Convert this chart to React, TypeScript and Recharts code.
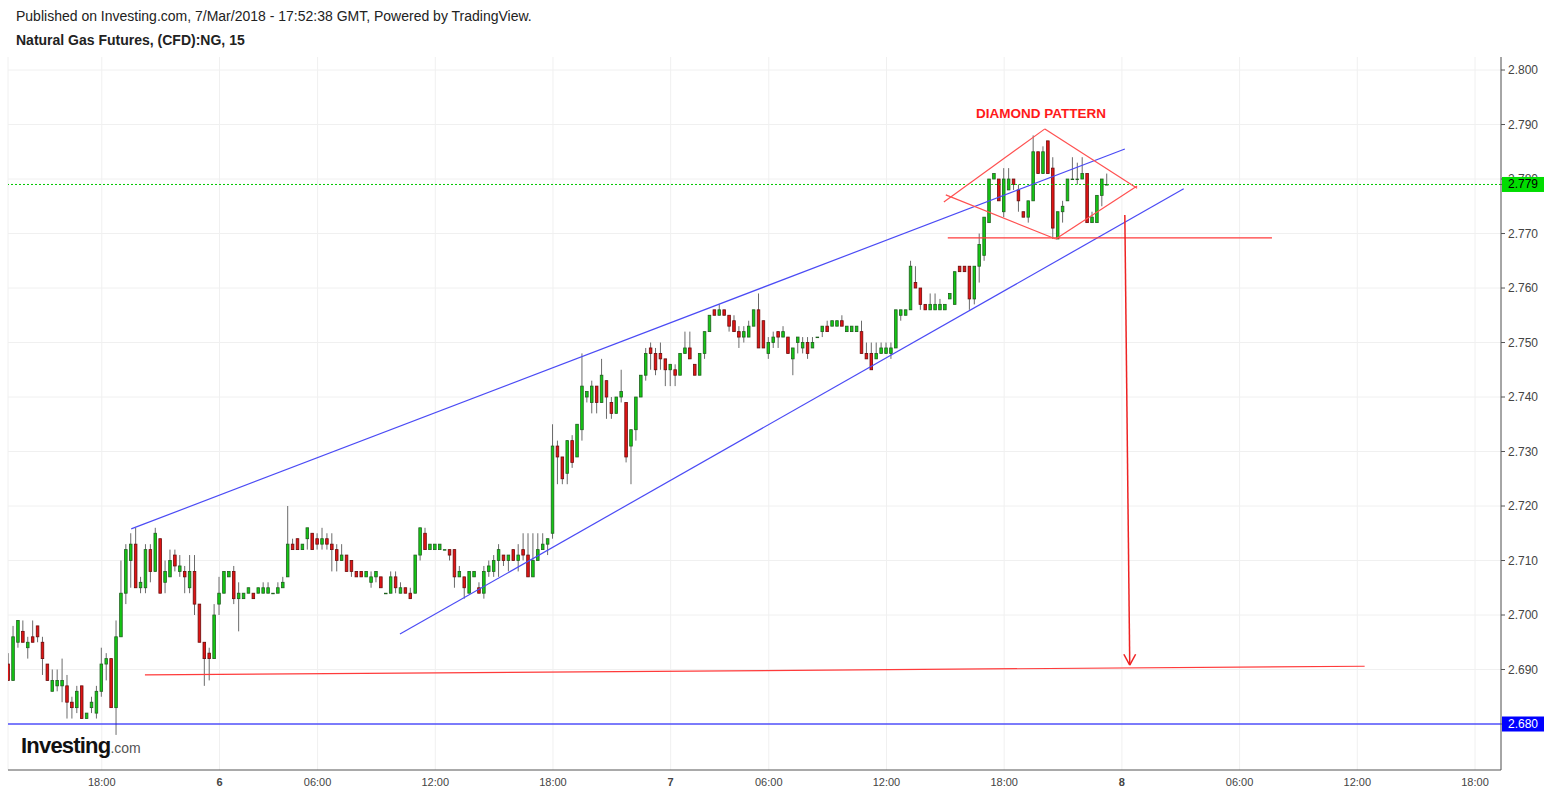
import React from "react";
import { Bar, CartesianGrid, ComposedChart, ReferenceDot, ReferenceLine, XAxis, YAxis } from "recharts";

// 15-minute bars, numbered from the "6" (midnight) tick; session breaks are skipped like TradingView does
const FIRST_BAR = -43;

const OPEN = [
  2.691, 2.688, 2.695, 2.697, 2.694, 2.696, 2.698, 2.695, 2.691, 2.686,
  2.687, 2.687, 2.687, 2.684, 2.683, 2.687, 2.681, 2.683, 2.682, 2.686,
  2.691, 2.692, 2.683, 2.696, 2.704, 2.710, 2.713, 2.705, 2.705, 2.712,
  2.708, 2.714, 2.706, 2.707, 2.711, 2.708, 2.708, 2.705, 2.708, 2.702,
  2.695, 2.693, 2.692, 2.702, 2.704, 2.707, 2.708, 2.703, 2.703, 2.704,
  2.704, 2.704, 2.704, 2.704, 2.704, 2.704, 2.705, 2.707, 2.713, 2.714,
  2.712, 2.714, 2.715, 2.714, 2.713, 2.714, 2.713, 2.712, 2.710, 2.711,
  2.710, 2.708, 2.708, 2.707, 2.706, 2.707, 2.707, 2.704, 2.704, 2.707,
  2.704, 2.705, 2.704, 2.704, 2.711, 2.715, 2.712, 2.712, 2.712, 2.712,
  2.712, 2.712, 2.707, 2.707, 2.704, 2.707, 2.705, 2.704, 2.708, 2.708,
  2.710, 2.711, 2.710, 2.712, 2.710, 2.712, 2.711, 2.707, 2.710, 2.712,
  2.713, 2.715, 2.731, 2.729, 2.726, 2.732, 2.729, 2.734, 2.740, 2.739,
  2.742, 2.739, 2.743, 2.739, 2.737, 2.740, 2.739, 2.731, 2.734, 2.740,
  2.744, 2.749, 2.748, 2.748, 2.747, 2.745, 2.745, 2.744, 2.748, 2.749,
  2.746, 2.744, 2.748, 2.752, 2.756, 2.755, 2.756, 2.755, 2.754, 2.752,
  2.751, 2.751, 2.753, 2.756, 2.754, 2.748, 2.750, 2.752, 2.751, 2.751,
  2.747, 2.750, 2.749, 2.750, 2.749, 2.751, 2.752, 2.753, 2.753, 2.753,
  2.754, 2.752, 2.752, 2.752, 2.752, 2.748, 2.748, 2.747, 2.748, 2.748,
  2.748, 2.749, 2.755, 2.755, 2.756, 2.761, 2.760, 2.757, 2.756, 2.756,
  2.756, 2.756, 2.758, 2.757, 2.764, 2.764, 2.764, 2.758, 2.764, 2.766,
  2.772, 2.780, 2.780, 2.774, 2.778, 2.780, 2.778, 2.774, 2.773, 2.776,
  2.785, 2.781, 2.787, 2.782, 2.769, 2.774, 2.776, 2.780, 2.780, 2.780,
  2.781, 2.772, 2.772, 2.777, 2.779,
];

const HIGH = [
  2.693, 2.698, 2.699, 2.699, 2.696, 2.699, 2.698, 2.696, 2.691, 2.690,
  2.690, 2.692, 2.689, 2.685, 2.687, 2.687, 2.682, 2.685, 2.687, 2.694,
  2.693, 2.692, 2.699, 2.710, 2.713, 2.715, 2.716, 2.707, 2.713, 2.713,
  2.716, 2.714, 2.710, 2.712, 2.712, 2.711, 2.709, 2.711, 2.711, 2.702,
  2.695, 2.694, 2.702, 2.707, 2.708, 2.708, 2.709, 2.706, 2.704, 2.705,
  2.704, 2.705, 2.706, 2.706, 2.704, 2.706, 2.707, 2.720, 2.714, 2.714,
  2.713, 2.716, 2.715, 2.715, 2.716, 2.715, 2.715, 2.713, 2.713, 2.711,
  2.710, 2.708, 2.708, 2.708, 2.708, 2.708, 2.707, 2.704, 2.708, 2.708,
  2.706, 2.705, 2.705, 2.711, 2.716, 2.716, 2.713, 2.713, 2.713, 2.712,
  2.712, 2.712, 2.709, 2.707, 2.708, 2.708, 2.706, 2.709, 2.710, 2.711,
  2.713, 2.711, 2.711, 2.712, 2.713, 2.715, 2.715, 2.715, 2.715, 2.715,
  2.714, 2.735, 2.732, 2.729, 2.732, 2.733, 2.735, 2.748, 2.741, 2.743,
  2.742, 2.747, 2.743, 2.740, 2.740, 2.745, 2.739, 2.734, 2.740, 2.744,
  2.749, 2.750, 2.749, 2.750, 2.747, 2.746, 2.746, 2.748, 2.752, 2.752,
  2.746, 2.748, 2.752, 2.755, 2.756, 2.757, 2.756, 2.755, 2.755, 2.753,
  2.753, 2.754, 2.756, 2.759, 2.754, 2.751, 2.752, 2.752, 2.753, 2.751,
  2.749, 2.751, 2.751, 2.751, 2.751, 2.751, 2.753, 2.754, 2.754, 2.754,
  2.755, 2.753, 2.753, 2.753, 2.754, 2.750, 2.750, 2.750, 2.750, 2.750,
  2.750, 2.756, 2.756, 2.756, 2.765, 2.764, 2.760, 2.757, 2.759, 2.759,
  2.758, 2.757, 2.759, 2.763, 2.764, 2.764, 2.764, 2.764, 2.770, 2.773,
  2.780, 2.781, 2.780, 2.782, 2.782, 2.780, 2.779, 2.774, 2.776, 2.788,
  2.785, 2.786, 2.787, 2.784, 2.774, 2.776, 2.780, 2.784, 2.783, 2.784,
  2.781, 2.774, 2.777, 2.780, 2.781,
];

const LOW = [
  2.688, 2.688, 2.694, 2.695, 2.692, 2.695, 2.695, 2.689, 2.688, 2.686,
  2.686, 2.684, 2.681, 2.681, 2.682, 2.681, 2.681, 2.682, 2.681, 2.685,
  2.688, 2.683, 2.678, 2.696, 2.702, 2.705, 2.705, 2.704, 2.704, 2.706,
  2.708, 2.704, 2.704, 2.707, 2.708, 2.707, 2.704, 2.704, 2.700, 2.695,
  2.687, 2.688, 2.692, 2.700, 2.704, 2.707, 2.702, 2.697, 2.703, 2.704,
  2.703, 2.704, 2.704, 2.704, 2.704, 2.704, 2.705, 2.707, 2.712, 2.712,
  2.712, 2.712, 2.712, 2.712, 2.712, 2.712, 2.708, 2.708, 2.710, 2.708,
  2.707, 2.707, 2.707, 2.707, 2.705, 2.706, 2.705, 2.704, 2.704, 2.704,
  2.704, 2.704, 2.703, 2.704, 2.710, 2.712, 2.712, 2.712, 2.712, 2.712,
  2.710, 2.705, 2.707, 2.703, 2.704, 2.707, 2.704, 2.703, 2.707, 2.707,
  2.707, 2.709, 2.708, 2.710, 2.708, 2.710, 2.707, 2.707, 2.710, 2.712,
  2.711, 2.714, 2.724, 2.724, 2.724, 2.727, 2.729, 2.732, 2.739, 2.737,
  2.737, 2.739, 2.736, 2.736, 2.737, 2.739, 2.728, 2.724, 2.732, 2.740,
  2.743, 2.745, 2.744, 2.745, 2.742, 2.742, 2.742, 2.744, 2.748, 2.747,
  2.744, 2.744, 2.747, 2.752, 2.755, 2.755, 2.755, 2.752, 2.752, 2.749,
  2.750, 2.751, 2.753, 2.749, 2.749, 2.747, 2.749, 2.749, 2.751, 2.748,
  2.744, 2.748, 2.748, 2.747, 2.749, 2.751, 2.751, 2.752, 2.753, 2.753,
  2.753, 2.752, 2.752, 2.752, 2.748, 2.747, 2.745, 2.747, 2.748, 2.748,
  2.747, 2.749, 2.754, 2.755, 2.756, 2.760, 2.756, 2.756, 2.756, 2.756,
  2.756, 2.756, 2.758, 2.757, 2.763, 2.763, 2.756, 2.757, 2.761, 2.765,
  2.772, 2.780, 2.776, 2.773, 2.778, 2.778, 2.774, 2.773, 2.772, 2.776,
  2.781, 2.781, 2.781, 2.769, 2.769, 2.772, 2.776, 2.780, 2.779, 2.780,
  2.772, 2.772, 2.772, 2.775, 2.779,
];

const CLOSE = [
  2.688, 2.696, 2.699, 2.695, 2.695, 2.695, 2.696, 2.692, 2.688, 2.688,
  2.688, 2.688, 2.684, 2.683, 2.686, 2.681, 2.682, 2.684, 2.686, 2.691,
  2.692, 2.683, 2.696, 2.704, 2.712, 2.713, 2.705, 2.706, 2.712, 2.708,
  2.715, 2.704, 2.708, 2.710, 2.709, 2.709, 2.707, 2.708, 2.702, 2.695,
  2.692, 2.692, 2.700, 2.704, 2.708, 2.708, 2.703, 2.704, 2.704, 2.705,
  2.703, 2.705, 2.705, 2.705, 2.704, 2.705, 2.706, 2.713, 2.712, 2.712,
  2.713, 2.716, 2.712, 2.713, 2.714, 2.713, 2.712, 2.710, 2.711, 2.708,
  2.708, 2.707, 2.707, 2.708, 2.707, 2.708, 2.705, 2.704, 2.707, 2.705,
  2.705, 2.704, 2.703, 2.711, 2.716, 2.712, 2.713, 2.713, 2.713, 2.712,
  2.711, 2.707, 2.708, 2.705, 2.708, 2.708, 2.704, 2.708, 2.709, 2.710,
  2.712, 2.710, 2.711, 2.710, 2.711, 2.711, 2.707, 2.710, 2.712, 2.713,
  2.714, 2.731, 2.729, 2.725, 2.732, 2.728, 2.735, 2.742, 2.741, 2.742,
  2.739, 2.744, 2.740, 2.737, 2.740, 2.741, 2.729, 2.734, 2.740, 2.744,
  2.748, 2.748, 2.745, 2.747, 2.745, 2.746, 2.744, 2.748, 2.749, 2.747,
  2.744, 2.748, 2.752, 2.755, 2.755, 2.756, 2.755, 2.753, 2.752, 2.751,
  2.752, 2.753, 2.756, 2.749, 2.749, 2.750, 2.751, 2.751, 2.752, 2.748,
  2.749, 2.751, 2.750, 2.748, 2.750, 2.751, 2.753, 2.752, 2.754, 2.754,
  2.753, 2.753, 2.753, 2.753, 2.748, 2.747, 2.745, 2.748, 2.749, 2.749,
  2.749, 2.756, 2.756, 2.756, 2.764, 2.760, 2.757, 2.756, 2.757, 2.757,
  2.757, 2.757, 2.759, 2.763, 2.763, 2.763, 2.758, 2.764, 2.768, 2.773,
  2.780, 2.781, 2.776, 2.780, 2.780, 2.779, 2.776, 2.773, 2.776, 2.785,
  2.781, 2.785, 2.781, 2.771, 2.774, 2.775, 2.780, 2.780, 2.780, 2.781,
  2.772, 2.773, 2.777, 2.780, 2.779,
];

const TIME_TICKS = [-24, 0, 20, 44, 68, 92, 112, 136, 160, 184, 208, 232, 256];
const TIME_LABELS = ["18:00", "6", "06:00", "12:00", "18:00", "7", "06:00", "12:00", "18:00", "8", "06:00", "12:00", "18:00"];
const PRICE_TICKS = [2.68, 2.69, 2.7, 2.71, 2.72, 2.73, 2.74, 2.75, 2.76, 2.77, 2.78, 2.79, 2.8];

const LAST_PRICE = 2.779;
const SUPPORT_PRICE = 2.68;

// drawings, as [bar, price] end points
const UPPER_CHANNEL = [[-18.0, 2.7158], [184.6, 2.7855]];
const LOWER_CHANNEL = [[36.8, 2.6965], [196.6, 2.7782]];
const TARGET_LINE = [[-15.2, 2.689], [233.5, 2.6906]];
const NECKLINE = [[148.5, 2.7692], [214.6, 2.7692]];
const DIAMOND = [
  [[147.7, 2.7758], [168.3, 2.7892]],
  [[148.1, 2.7771], [170.5, 2.769]],
  [[168.3, 2.7892], [187.1, 2.7783]],
  [[170.5, 2.769], [187.1, 2.7787]],
];
const ARROW = [[184.6, 2.7734], [185.6, 2.6909]];
const ARROW_HEAD = [
  [[184.4, 2.6928], [185.6, 2.6908]],
  [[186.8, 2.6928], [185.6, 2.6908]],
];
const PATTERN_LABEL = { bar: 167.5, price: 2.7921, text: "DIAMOND PATTERN" };

const candles = OPEN.map((open, i) => ({
  bar: FIRST_BAR + i,
  open,
  high: HIGH[i],
  low: LOW[i],
  close: CLOSE[i],
  range: [LOW[i], HIGH[i]],
}));

function Candle(props: any) {
  const { x, y, width, height, payload } = props;
  if (x == null || y == null) return null;
  const { open, close, high, low } = payload;
  const cx = x + width / 2;
  const k = high > low ? height / (high - low) : 0;
  const yOf = (v: number) => y + (high - v) * k;
  const up = close >= open;
  const top = yOf(Math.max(open, close));
  const bottom = yOf(Math.min(open, close));
  return (
    <g>
      <line x1={cx} x2={cx} y1={y} y2={y + height} stroke="#6b6b6b" strokeWidth={1} />
      <rect
        x={cx - 1.3}
        y={top}
        width={2.6}
        height={Math.max(bottom - top, 0.6)}
        fill={up ? "#14c814" : "#e01414"}
        stroke={up ? "#1f5f1f" : "#6a0c0c"}
        strokeWidth={0.8}
      />
    </g>
  );
}

function TimeTick({ x, y, payload }: any) {
  const label = TIME_LABELS[TIME_TICKS.indexOf(payload.value)] ?? "";
  const isDay = label.length === 1;
  return (
    <text x={x} y={y} dy={8} textAnchor="middle" fontSize={11} fontWeight={isDay ? "bold" : "normal"} fill="#444">
      {label}
    </text>
  );
}

// price scale labels; the last price and the support level get a coloured tag
function PriceTick({ x, y, payload }: any) {
  const v = payload.value;
  const tag = v === LAST_PRICE ? { bg: "#00dd00", fg: "#000" } : v === SUPPORT_PRICE ? { bg: "#0000ff", fg: "#fff" } : null;
  return (
    <g>
      {tag && <rect x={x - 6} y={y - 7.5} width={42} height={15} fill={tag.bg} />}
      <text x={x} y={y + 4} fontSize={12} fill={tag ? tag.fg : "#444"}>
        {v.toFixed(3)}
      </text>
    </g>
  );
}

function seg(points: number[][]) {
  return [{ x: points[0][0], y: points[0][1] }, { x: points[1][0], y: points[1][1] }];
}

export default function App() {
  return (
    <div style={{ position: "absolute", left: 0, top: 0, width: 1550, height: 794, background: "#fff", fontFamily: "Arial, 'Liberation Sans', sans-serif" }}>
      <div style={{ position: "absolute", left: 16, top: 8, fontSize: 14, color: "#222", whiteSpace: "nowrap" }}>
        Published on Investing.com, 7/Mar/2018 - 17:52:38 GMT, Powered by TradingView.
      </div>
      <div style={{ position: "absolute", left: 16, top: 32, fontSize: 14, fontWeight: "bold", color: "#222", whiteSpace: "nowrap" }}>
        Natural Gas Futures, (CFD):NG, 15
      </div>
      <ComposedChart width={1550} height={794} data={candles} margin={{ top: 57, right: 0, bottom: 0, left: 8 }}>
        <CartesianGrid stroke="#f0f0f0" horizontalValues={PRICE_TICKS} />
        <XAxis
          dataKey="bar"
          type="number"
          domain={[-43.12, 261.3]}
          allowDataOverflow
          ticks={TIME_TICKS}
          tick={<TimeTick />}
          tickLine={false}
          axisLine={{ stroke: "#555" }}
          height={24}
          interval={0}
        />
        <YAxis
          orientation="right"
          type="number"
          domain={[2.67156, 2.80239]}
          allowDataOverflow
          ticks={[...PRICE_TICKS, LAST_PRICE]}
          interval={0}
          width={49}
          tick={<PriceTick />}
          tickLine={{ stroke: "#555" }}
          tickSize={4}
          tickMargin={3}
          axisLine={{ stroke: "#555" }}
        />
        <Bar dataKey="range" barSize={4} shape={(p: any) => <Candle {...p} />} isAnimationActive={false} />
        <ReferenceLine y={SUPPORT_PRICE} stroke="#0000ff" strokeWidth={1} />
        <ReferenceLine y={LAST_PRICE} stroke="#00c800" strokeDasharray="2 2" />
        <ReferenceLine segment={seg(UPPER_CHANNEL)} stroke="#4b4bf5" strokeWidth={1.2} />
        <ReferenceLine segment={seg(LOWER_CHANNEL)} stroke="#4b4bf5" strokeWidth={1.2} />
        <ReferenceLine segment={seg(TARGET_LINE)} stroke="#ff3b3b" strokeWidth={1.2} />
        <ReferenceLine segment={seg(NECKLINE)} stroke="#ff3b3b" strokeWidth={1.2} />
        {DIAMOND.map((d, i) => (
          <ReferenceLine key={`d${i}`} segment={seg(d)} stroke="#ff5050" strokeWidth={1.2} />
        ))}
        <ReferenceLine segment={seg(ARROW)} stroke="#ee2222" strokeWidth={1.5} />
        {ARROW_HEAD.map((d, i) => (
          <ReferenceLine key={`a${i}`} segment={seg(d)} stroke="#ee2222" strokeWidth={1.5} />
        ))}
        <ReferenceDot
          x={PATTERN_LABEL.bar}
          y={PATTERN_LABEL.price}
          r={0}
          fill="none"
          stroke="none"
          label={{ value: PATTERN_LABEL.text, position: "center", fill: "#ff1a1a", fontSize: 13.5, fontWeight: "bold" }}
        />
      </ComposedChart>
      <div style={{ position: "absolute", left: 21, top: 733, whiteSpace: "nowrap", color: "#111" }}>
        <span style={{ fontSize: 22, fontWeight: "bold", letterSpacing: -0.8 }}>Investing</span>
        <span style={{ fontSize: 14, color: "#555" }}>.com</span>
      </div>
    </div>
  );
}
